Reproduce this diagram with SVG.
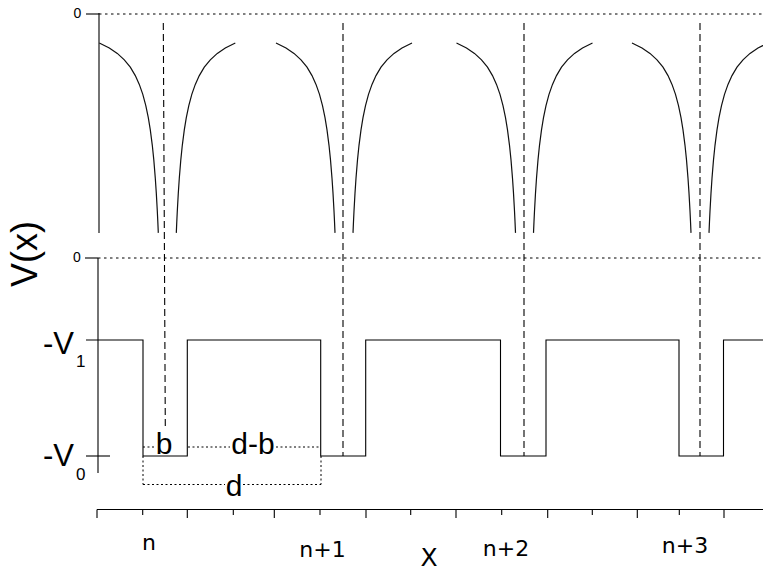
<svg xmlns="http://www.w3.org/2000/svg" xmlns:xlink="http://www.w3.org/1999/xlink" width="763" height="571" viewBox="0 0 763 571">
<style>
.solid{fill:none;stroke:#000;stroke-width:1.1}
.curve{fill:none;stroke:#111;stroke-width:1.2}
.dot{fill:none;stroke:#000;stroke-width:1;stroke-dasharray:2.5,3.5}
.fine{fill:none;stroke:#000;stroke-width:1;stroke-dasharray:2,2.5}
.dash{fill:none;stroke:#000;stroke-width:1.1;stroke-dasharray:7,4}
.lbl{font-family:"Liberation Sans",Arial,sans-serif;fill:#000}
.ax{font-family:"DejaVu Sans",sans-serif;fill:#000}
</style>
<defs>
<path id="dip" class="curve" d="M-68,43 L-58,48 L-50,53.4 L-43,59.8 L-37,67.2 L-32,75.6 L-28,84.4 L-24.5,94.4 L-21.5,105.6 L-19,117.7 L-17,129.9 L-15,145.3 L-13.5,159.9 L-12,178.2 L-11,193.1 L-10,211 L-9.5,221.4 L-9,232.9 M68,43 L58,48 L50,53.4 L43,59.8 L37,67.2 L32,75.6 L28,84.4 L24.5,94.4 L21.5,105.6 L19,117.7 L17,129.9 L15,145.3 L13.5,159.9 L12,178.2 L11,193.1 L10,211 L9.5,221.4 L9,232.9"/>
</defs>
<rect width="763" height="571" fill="#fff"/>

<g id="top-panel">
  <line class="solid" x1="99" y1="13" x2="99" y2="233"/>
  <line class="solid" x1="86" y1="14" x2="99" y2="14"/>
  <line class="dot" x1="99" y1="14" x2="763" y2="14"/>
  <text class="lbl" x="77.5" y="18" font-size="14" text-anchor="middle">0</text>
  <use xlink:href="#dip" href="#dip" transform="translate(167.3,0)"/>
  <use xlink:href="#dip" href="#dip" transform="translate(344,0)"/>
  <use xlink:href="#dip" href="#dip" transform="translate(524.5,0)"/>
  <use xlink:href="#dip" href="#dip" transform="translate(700,0)"/>
</g>

<g id="bottom-panel">
  <line class="solid" x1="98" y1="258" x2="98" y2="473"/>
  <line class="solid" x1="85" y1="258" x2="98" y2="258"/>
  <line class="dot" x1="98" y1="258" x2="763" y2="258"/>
  <text class="lbl" x="77" y="262" font-size="14" text-anchor="middle">0</text>
  <line class="solid" x1="86" y1="456" x2="110" y2="456"/>
  <path class="solid" d="M86,340 H143 V456 H187.3 V340 H320.7 V456 H365.7 V340 H500.5 V456 H546 V340 H679 V456 H723.5 V340 H763"/>
  <text class="lbl" x="43" y="353.5" font-size="31">-V</text>
  <text class="lbl" x="76" y="367" font-size="17">1</text>
  <text class="lbl" x="43" y="466" font-size="31">-V</text>
  <text class="lbl" x="76" y="479.5" font-size="17">0</text>
</g>

<g id="connectors">
  <line class="dash" x1="163.3" y1="23" x2="165.3" y2="427"/>
  <line class="dash" x1="343" y1="23" x2="343" y2="456"/>
  <line class="dash" x1="524" y1="23" x2="524" y2="456"/>
  <line class="dash" x1="700" y1="23" x2="700" y2="456"/>
</g>

<g id="dimensions">
  <line class="fine" x1="143" y1="447" x2="155" y2="447"/>
  <line class="fine" x1="188" y1="447" x2="230" y2="447"/>
  <line class="fine" x1="276" y1="447" x2="321" y2="447"/>
  <line class="fine" x1="143" y1="456" x2="143" y2="484.5"/>
  <line class="fine" x1="321" y1="456" x2="321" y2="484.5"/>
  <line class="fine" x1="143" y1="484.5" x2="225" y2="484.5"/>
  <line class="fine" x1="243" y1="484.5" x2="321" y2="484.5"/>
  <text class="lbl" x="164" y="454" font-size="30" text-anchor="middle">b</text>
  <text class="lbl" x="253" y="454" font-size="30" text-anchor="middle">d-b</text>
  <text class="lbl" x="234" y="496" font-size="30" text-anchor="middle">d</text>
</g>

<g id="x-axis">
  <line class="solid" x1="97" y1="509.5" x2="763" y2="509.5"/>
  <path class="solid" d="M97,509.5 V518 M142.7,509.5 V515 M187.3,509.5 V518 M233.3,509.5 V515 M274.3,509.5 V518 M320,509.5 V515 M366,509.5 V518 M410.7,509.5 V515 M456,509.5 V518 M501.7,509.5 V515 M547.7,509.5 V518 M592.3,509.5 V515 M637.3,509.5 V518 M679.3,509.5 V515 M724,509.5 V518"/>
  <text class="ax" x="149" y="550" font-size="22" text-anchor="middle">n</text>
  <text class="ax" x="322.5" y="557" font-size="22" text-anchor="middle">n+1</text>
  <text class="ax" x="506" y="556" font-size="22" text-anchor="middle">n+2</text>
  <text class="ax" x="685" y="553.3" font-size="22" text-anchor="middle">n+3</text>
  <text class="ax" x="429" y="566" font-size="25" text-anchor="middle">X</text>
</g>

<g id="y-label">
  <text class="lbl" transform="translate(36.5,254) rotate(-90)" font-size="36" text-anchor="middle">V(x)</text>
</g>
</svg>
